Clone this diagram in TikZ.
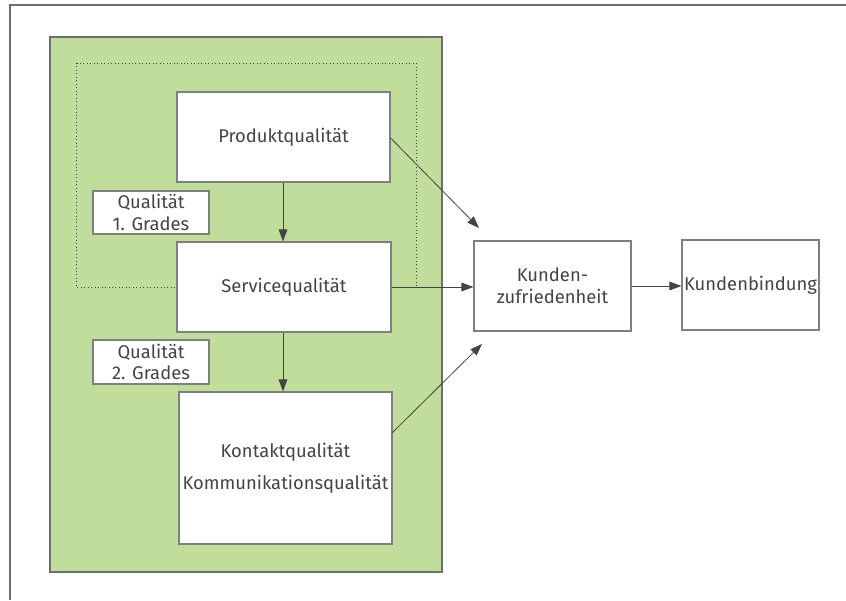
\documentclass[tikz,border=0pt]{standalone}
\usepackage{fontspec}
\setmainfont{Fira Sans}
\usetikzlibrary{arrows.meta}
\definecolor{grn}{HTML}{C0DD9C}
\definecolor{frm}{HTML}{6E6E6E}
\definecolor{bx}{HTML}{7F7F7F}
\definecolor{txt}{HTML}{444444}
\begin{document}
\begin{tikzpicture}[x=0.75pt,y=-0.75pt,
  box/.style={draw=bx,line width=0.9pt,fill=white,rectangle,inner sep=0pt,align=center,text=txt,font=\fontsize{13.8}{16.2}\selectfont},
  arr/.style={draw=txt,line width=0.6pt,-{Triangle[length=9pt,width=6.5pt]}},
  font=\fontsize{13.8}{16.2}\selectfont]
\useasboundingbox (0,0) rectangle (846,600);
\draw[frm,line width=1.1pt] (846,5) -- (10,5) -- (10,600);
\fill[grn,draw=frm,line width=1pt] (50,37) rectangle (442,572);
\draw[txt,line width=0.6pt,dotted] (76,63) rectangle (416,287);
\node[box,minimum width=213*0.75pt,minimum height=90*0.75pt] (P) at (283.5,137) {Produktqualität};
\node[box,minimum width=214*0.75pt,minimum height=90*0.75pt] (S) at (284,287) {Servicequalität};
\node[box,minimum width=213*0.75pt,minimum height=152*0.75pt] (K) at (285.5,468) {Kontaktqualität\\[8pt]Kommunikationsqualität};
\node[box,minimum width=116*0.75pt,minimum height=43*0.75pt] (Q1) at (151,212.5) {Qualität\\1. Grades};
\node[box,minimum width=116*0.75pt,minimum height=44*0.75pt] (Q2) at (151,362) {Qualität\\2. Grades};
\node[box,minimum width=157*0.75pt,minimum height=90*0.75pt] (KZ) at (552.5,286) {Kunden-\\zufriedenheit};
\node[box,minimum width=137*0.75pt,minimum height=90*0.75pt] (KB) at (750.5,285) {Kundenbindung};
\coordinate (t1) at (479,228);
\coordinate (t3) at (482,344);
\coordinate (k3) at (392,433);
\draw[arr] (P.south -| 283,0) -- (S.north -| 283,0);
\draw[arr] (S.south -| 283,0) -- (K.north -| 283,0);
\draw[arr] ([yshift=-0.75pt]P.east) -- (t1);
\draw[arr] (S.east) -- (KZ.west |- S.east);
\draw[arr] (k3) -- (t3);
\draw[arr] (KZ.east) -- (KB.west |- KZ.east);
\end{tikzpicture}
\end{document}
